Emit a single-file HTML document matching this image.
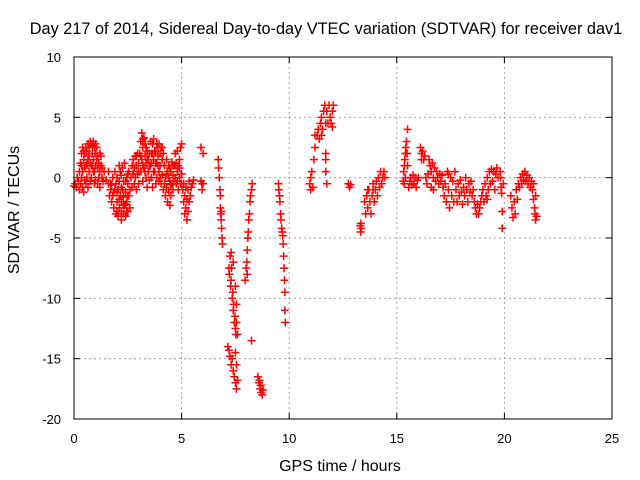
<!DOCTYPE html>
<html><head><meta charset="utf-8"><style>
body{margin:0;background:#fff;}
svg{display:block;font-family:"Liberation Sans",sans-serif;}
</style></head><body>
<svg id="chart" width="640" height="480">
<rect width="640" height="480" fill="#fff"/>
<text x="326" y="34" font-size="16.3" text-anchor="middle">Day 217 of 2014, Sidereal Day-to-day VTEC variation (SDTVAR) for receiver dav1</text>
<text transform="translate(19,210) rotate(-90)" font-size="16" text-anchor="middle">SDTVAR / TECUs</text>
<text x="340" y="471" font-size="16" text-anchor="middle">GPS time / hours</text>
<g id="grid"></g>
<g id="ticks"></g>
<g id="points"></g>
<rect x="74" y="57" width="538" height="362" fill="none" stroke="#000" stroke-width="1"/>
</svg>
<script>
const xTicks=[0,5,10,15,20,25];
const yTicks=[10,5,0,-5,-10,-15,-20];
const sdtvarPoints=[
[0,-0.7],[0.05,-0.5],[0.1,-0.8],[0.15,0],[0.2,-0.3],[0.25,0.5],[0.25,-1],[0.3,1.2],[0.3,-0.5],[0.35,2],[0.35,0],[0.4,2.5],[0.4,-0.8],[0.45,1.5],[0.45,-1.2],[0.5,0.8],[0.5,2],[0.55,-0.5],[0.55,1],[0.6,2.2],[0.6,0],[0.65,1.5],[0.65,-0.8],[0.7,2.5],[0.7,0.5],[0.75,3],[0.75,1.2],[0.8,2.8],[0.8,0],[0.85,2],[0.85,1],[0.9,3],[0.9,1.5],[0.95,2.5],[0.95,0.5],[1.0,2],[1.0,-0.2],[1.05,1.5],[1.05,2.5],[1.1,0.8],[1.1,1.8],[1.15,1.2],[1.15,0],[1.2,2],[1.2,0.5],[1.25,1],[1.3,0],[1.3,0.8],[1.35,-0.3],[1.4,0.5],[1.5,-0.2],[1.6,0.5],[1.7,-0.5],[1.2,-0.8],[1.1,-0.5],
[0.4,0.5],[0.5,-0.2],[0.6,1.2],[0.7,1.8],[0.8,1],[0.9,0.5],[1.0,1],[0.45,2.2],[0.55,2.5],[0.65,2.8],[0.85,2.6],[1.0,2.8],[0.35,1],[0.75,-0.3],[0.95,-0.5],[1.25,1.8],
[1.6,-0.5],[1.65,-1.5],[1.7,-1],[1.75,-2],[1.8,-1.5],[1.8,0],[1.85,-2.5],[1.9,-1],[1.9,0.5],[1.95,-3],[2.0,-2],[2.0,0],[2.05,-1],[2.05,-3.2],[2.1,1],[2.1,-2.5],[2.15,-1.5],[2.15,0.5],[2.2,-3.5],[2.2,-2],[2.25,0.8],[2.25,-1],[2.3,-3],[2.3,-0.3],[2.35,-2.3],[2.35,1.2],[2.4,-1.2],[2.4,-3.2],[2.45,0],[2.45,-2],[2.5,-2.8],[2.5,-0.5],[2.55,-1.5],[2.55,0.5],[2.6,-2.5],[2.6,-1],
[1.85,-1.2],[1.95,-0.5],[2.0,-1.2],[2.1,-0.3],[2.1,-1.8],[2.2,-0.8],[2.2,0.2],[2.3,-1.6],[2.3,-2.3],[2.4,-0.3],[2.4,-2.2],[2.5,-1.5],[2.5,0.3],[1.75,-0.6],[2.0,-2.8],[2.2,-2.8],[2.45,-2.8],
[2.65,0],[2.7,1],[2.7,-0.8],[2.75,0.3],[2.75,1.5],[2.8,-0.5],[2.8,0.8],[2.85,1.8],[2.85,0],[2.9,1],[2.9,-1],[2.95,0.3],[2.95,2],[3.0,1.2],[3.0,-0.5],
[3.05,2],[3.1,3],[3.1,0.5],[3.15,3.7],[3.15,1.5],[3.2,2.5],[3.2,-0.3],[3.25,3.3],[3.25,0.8],[3.3,1.8],[3.3,2.8],[3.35,0],[3.35,1.2],[3.4,2.2],[3.4,-0.8],[3.45,0.5],[3.45,1.5],[3.5,2],[3.5,-0.2],
[3.1,1.8],[3.2,1],[3.3,0.5],[3.4,1.5],[3.5,1],[3.0,0.5],[2.9,1.8],[3.2,3.2],[3.35,2.5],
[3.55,1],[3.55,3],[3.6,2],[3.6,0],[3.65,2.8],[3.65,-0.8],[3.7,1.5],[3.7,3.2],[3.75,0.5],[3.75,2.2],[3.8,1.2],[3.8,-0.5],[3.85,2.8],[3.85,0],[3.9,1.8],[3.9,2.5],[3.95,0.5],[3.95,-0.3],[4.0,2],[4.0,1],[4.05,2.5],[4.05,-0.5],[4.1,1.5],[4.1,0.2],[4.15,2],[4.15,-1],
[3.6,1.2],[3.7,0.5],[3.8,2.2],[3.9,1],[4.0,0],[4.1,2.5],[3.65,2],[3.85,1.2],[3.95,2.8],
[4.2,1],[4.2,-0.5],[4.25,0],[4.25,-1.5],[4.3,1.5],[4.3,-0.8],[4.35,0.5],[4.35,-2],[4.4,-1.2],[4.4,1],[4.45,-0.3],[4.45,-2.3],[4.5,0.5],[4.5,-1.5],[4.55,1.3],[4.55,-0.5],[4.6,-1],[4.6,0.2],[4.65,1],[4.7,2],[4.7,0],[4.75,1.2],[4.75,-0.5],[4.8,2.2],[4.8,0.5],[4.85,1],[4.85,-1],[4.9,0],[4.9,1.5],[4.95,-0.5],[5.0,0.3],[5.0,2.8],[4.95,2.5],
[4.3,0.3],[4.4,0],[4.5,-0.6],[4.6,1],[4.7,1],[4.8,-0.3],[4.9,0.8],[5.0,-0.5],[4.45,0.8],[4.65,-0.3],
[5.05,-1],[5.1,-0.5],[5.1,-2],[5.15,-1.5],[5.15,-3],[5.2,-0.8],[5.2,-2.5],[5.25,-1.8],[5.25,-3.5],[5.3,-1],[5.3,-2.8],[5.35,-0.3],[5.35,-2],[5.4,-1.5],[5.45,-0.8],[5.5,-0.5],[5.55,-0.2],
[5.9,-0.3],[5.95,-1],[6.0,-0.5],[5.9,2.5],[6.0,2],[5.95,-0.5],
[6.7,1.5],[6.72,0.8],[6.75,0],[6.78,-1],[6.8,-2.5],[6.82,-3],[6.84,-3.5],[6.86,-4.2],[6.88,-5],[6.9,-5.5],[6.85,-2.8],[6.8,-1.5],
[7.2,-7.5],[7.22,-8],[7.25,-6.5],[7.28,-9],[7.3,-8.5],[7.32,-7.5],[7.35,-10],[7.38,-9.5],[7.4,-11],[7.42,-10.5],[7.45,-12],[7.48,-11.5],[7.5,-12.5],[7.52,-13],[7.55,-12],[7.6,-13],[7.3,-6.2],[7.4,-7],[7.5,-9],[7.55,-10.5],
[7.15,-14],[7.2,-14.3],[7.25,-14.8],[7.3,-15.5],[7.35,-15],[7.4,-16],[7.45,-16.5],[7.5,-17],[7.55,-17.5],[7.6,-16.8],[7.55,-15.5],[7.5,-14.5],
[7.95,-8.5],[8.0,-7.5],[8.03,-7],[8.05,-6],[8.08,-5],[8.1,-4.5],[8.12,-3.5],[8.15,-3],[8.18,-2],[8.2,-1.5],[8.25,-1],[8.28,-0.5],[8.05,-8],
[8.25,-13.5],
[8.55,-16.5],[8.6,-17],[8.62,-16.8],[8.65,-17.5],[8.68,-17.2],[8.7,-17.8],[8.75,-18],[8.78,-17.6],
[9.5,-0.5],[9.52,-1],[9.55,-1.5],[9.57,-2],[9.6,-3],[9.62,-3.5],[9.65,-4.2],[9.68,-4.5],[9.7,-4.8],[9.72,-5.5],[9.74,-6.5],[9.76,-7.5],[9.78,-8.5],[9.8,-9.5],[9.8,-11],[9.82,-12],
[10.95,-0.5],[11.0,0],[11.0,-1],[11.05,0.5],[11.1,-0.8],[11.15,1.5],[11.2,2.5],[11.2,3.5],
[11.3,3.5],[11.35,4],[11.4,3.2],[11.45,4.5],[11.5,5],[11.55,4],[11.6,5.5],[11.65,6],[11.7,4.5],[11.75,5.5],[11.8,4.5],[11.85,6],[11.9,5],[11.95,4.5],[12.0,5.5],[12.05,6],[11.7,1.5],[11.7,0.5],[11.75,-0.5],[11.7,2],[12.0,4.2],[11.5,3.5],
[12.75,-0.5],[12.8,-0.8],[12.85,-0.6],
[13.3,-4],[13.32,-4.5],[13.35,-4.2],[13.33,-3.8],
[13.5,-2],[13.55,-3],[13.6,-1.5],[13.65,-2.5],[13.7,-1],[13.75,-2],[13.8,-3],[13.85,-1.5],[13.9,-0.5],[13.95,-2],[14.0,-1],[14.05,-0.3],[14.1,-1.5],[14.15,0],[14.2,-0.8],[14.25,0.5],[14.3,-0.5],[14.35,0],[14.4,0.5],[14.45,0],[13.65,-1],[13.9,-1],
[15.3,-0.3],[15.32,0.5],[15.35,1],[15.37,1.5],[15.4,2],[15.42,2.5],[15.45,3],[15.48,2],[15.5,4],[15.5,1],[15.35,-0.5],[15.4,0],
[15.55,-0.8],[15.6,-0.3],[15.65,0],[15.7,-0.6],[15.75,0.2],[15.8,-0.5],[15.85,0],[15.9,-0.8],[15.95,-0.2],[16.0,0],
[16.1,2.5],[16.15,2],[16.2,2.2],[16.25,1.5],[16.3,1.8],[16.15,1.5],
[16.35,0],[16.4,-0.5],[16.45,0.3],[16.5,1.5],[16.55,1],[16.6,0.5],[16.65,1.2],[16.7,0],[16.75,0.8],[16.8,-0.3],[16.85,0.5],[16.9,0],[16.95,-0.5],[17.0,0.3],[17.05,-0.3],[17.1,0.2],[17.15,-0.8],[16.6,-0.8],[16.7,-1],
[17.2,-1.5],[17.25,-0.5],[17.3,-2],[17.35,0.5],[17.4,-1],[17.45,-2.5],[17.5,0],[17.55,-1.5],[17.6,-0.3],[17.65,-2],[17.7,0.5],[17.4,0.3],
[17.75,-1],[17.8,-2],[17.85,-0.5],[17.9,-1.5],[17.95,-0.2],[18.0,-1.2],[18.05,-2.2],[18.1,-0.8],[18.15,-1.5],[18.2,0],[18.25,-1],[18.3,-2],[18.35,-0.5],[18.4,-1.2],[18.45,-0.3],[18.5,-1.5],
[18.55,-1],[18.6,-2],[18.65,-2.5],[18.7,-3],[18.75,-2.2],[18.8,-3],[18.85,-2.5],[18.9,-2],[18.95,-1.5],[19.0,-1],
[19.05,-2],[19.1,-0.5],[19.15,-1.5],[19.2,0],[19.25,-1],[19.3,0.5],[19.35,-0.5],[19.4,0.7],[19.45,-0.3],[19.5,0.5],[19.55,-1],[19.6,0.3],[19.65,0.8],[19.7,0],[19.2,-1.8],
[19.8,0.5],[19.82,0],[19.85,-0.8],[19.87,-1.3],[19.9,-2.8],[19.9,-4.2],[19.95,-0.5],
[20.3,-1.5],[20.35,-2.5],[20.4,-3.3],[20.45,-2],[20.5,-3],[20.55,-1],[20.6,-1.8],[20.65,-0.5],
[20.7,-0.8],[20.75,0],[20.8,-0.5],[20.85,0.3],[20.9,-0.2],[20.95,0.5],[21.0,-0.3],[21.05,0.2],[21.1,-0.5],[21.15,0],[21.2,-0.8],[21.25,-0.3],[21.3,-1],[21.35,-1.8],[21.4,-2.5],[21.42,-3],[21.45,-3.5],[21.5,-3.2],[21.35,-0.5],[21.45,-1.5]
];
const NS='http://www.w3.org/2000/svg';
const X0=74,X1=612,Y0=419,Y1=57,XMIN=0,XMAX=25,YMIN=-20,YMAX=10;
function sx(v){return X0+(v-XMIN)/(XMAX-XMIN)*(X1-X0);}
function sy(v){return Y0-(v-YMIN)/(YMAX-YMIN)*(Y0-Y1);}
function mk(tag,attrs,parent){const e=document.createElementNS(NS,tag);for(const k in attrs)e.setAttribute(k,attrs[k]);parent.appendChild(e);return e;}
const grid=document.getElementById('grid'),ticks=document.getElementById('ticks'),pts=document.getElementById('points');
xTicks.forEach(t=>{
  const x=sx(t);
  if(t>XMIN&&t<XMAX){const g=mk('line',{x1:x,x2:x,y1:Y1,y2:Y0,stroke:'#a0a0a0','stroke-dasharray':'2,3'},grid);
  
  }
  const a=mk('line',{x1:x,x2:x,y1:Y0,y2:Y0-6,stroke:'#000'},ticks);
  
  
  const b=mk('line',{x1:x,x2:x,y1:Y1,y2:Y1+6,stroke:'#000'},ticks);
  
  
  const l=mk('text',{x:x,y:443,'font-size':13,'text-anchor':'middle'},ticks);
  l.textContent=t;
  
  
});
yTicks.forEach(t=>{
  const y=sy(t);
  if(t>YMIN&&t<YMAX){const g=mk('line',{x1:X0,x2:X1,y1:y,y2:y,stroke:'#a0a0a0','stroke-dasharray':'2,3'},grid);
  
  }
  const a=mk('line',{x1:X0,x2:X0+6,y1:y,y2:y,stroke:'#000'},ticks);
  
  
  const b=mk('line',{x1:X1,x2:X1-6,y1:y,y2:y,stroke:'#000'},ticks);
  
  
  const l=mk('text',{x:61,y:y+5,'font-size':13,'text-anchor':'end'},ticks);
  l.textContent=t;
  
  
});
sdtvarPoints.forEach(p=>{
  const x=sx(p[0]),y=sy(p[1]);
  const m=mk('path',{d:`M${x-4},${y}H${x+4}M${x},${y-4}V${y+4}`,stroke:'#ff0000','stroke-width':1.5,fill:'none'},pts);
  
  
});
</script>
</body></html>
